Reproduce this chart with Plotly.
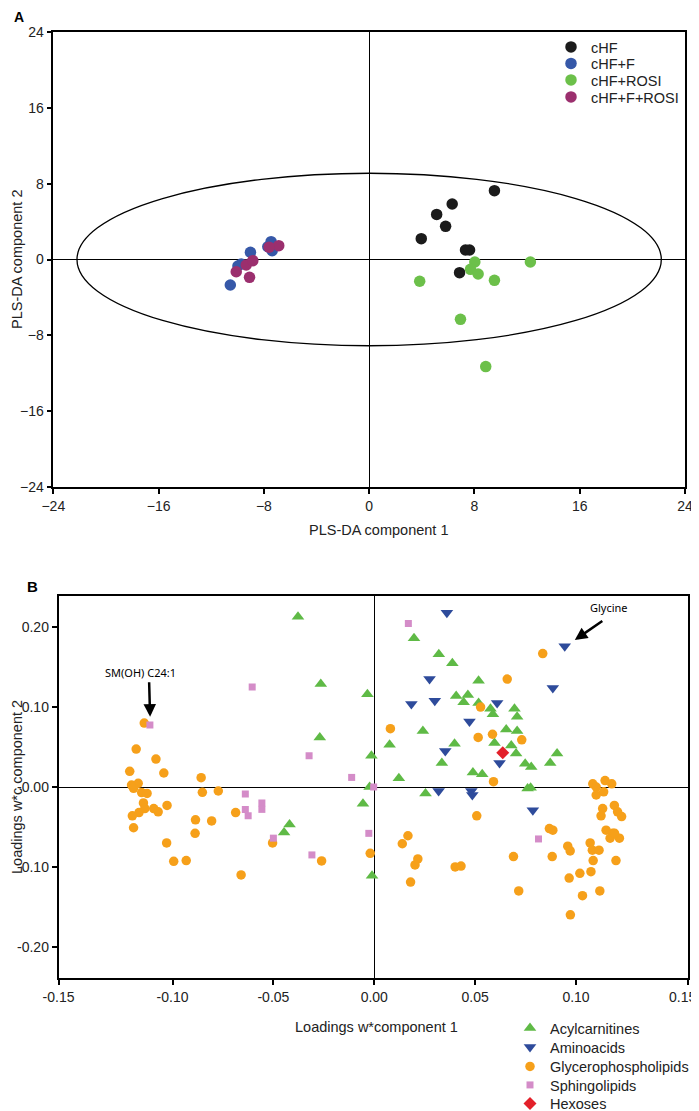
import plotly.graph_objects as go

# ---------- Panel A: PLS-DA scores ----------
chf_x = [9.52, 6.31, 5.13, 5.81, 3.96, 7.32, 7.63, 6.87]
chf_y = [7.26, 5.85, 4.76, 3.50, 2.20, 1.00, 1.00, -1.39]

chf_f_x = [-10.55, -9.97, -9.72, -9.02, -7.70, -7.45, -7.37]
chf_f_y = [-2.69, -0.69, -0.47, 0.76, 1.35, 1.88, 0.93]

chf_rosi_x = [3.84, 8.03, 7.70, 8.28, 9.52, 12.25, 6.94, 8.86]
chf_rosi_y = [-2.30, -0.26, -1.04, -1.53, -2.20, -0.26, -6.31, -11.3]

chf_f_rosi_x = [-10.10, -9.34, -8.84, -9.09, -6.87, -7.60]
chf_f_rosi_y = [-1.29, -0.58, -0.12, -1.88, 1.46, 1.30]

ellipse_a = 22.2   # half width of the confidence ellipse
ellipse_b = 9.1    # half height

a_ticks = [-24, -16, -8, 0, 8, 16, 24]

# ---------- Panel B: loadings ----------
acyl_x = [-0.0378, -0.0265, -0.0270, 0.0197, 0.0320, 0.0387, 0.0517, -0.0034, 0.0406, 0.0464,
          0.0443, 0.0517, 0.0576, 0.0588, 0.0695, 0.0708, 0.0241, 0.0654, 0.0708, 0.0076,
          0.0398, 0.0596, 0.0679, 0.0703, -0.0014, 0.0335, 0.0748, 0.0778, 0.0906, 0.0872,
          0.0489, 0.0535, 0.0122, 0.0760, 0.0775, 0.0254, -0.0056, -0.0023, -0.0011, -0.0420,
          -0.0447]
acyl_y = [0.213, 0.129, 0.062, 0.186, 0.166, 0.155, 0.133, 0.116, 0.114, 0.115,
          0.106, 0.105, 0.098, 0.091, 0.098, 0.088, 0.070, 0.072, 0.070, 0.053,
          0.054, 0.055, 0.052, 0.042, 0.039, 0.030, 0.029, 0.025, 0.042, 0.030,
          0.018, 0.016, 0.011, -0.002, -0.001, -0.008, -0.021, 0.000, -0.111, -0.047,
          -0.057]

amino_x = [0.0360, 0.0944, 0.0274, 0.0885, 0.0184, 0.0300, 0.0609, 0.0472, 0.0352, 0.0621,
           0.0319, 0.0481, 0.0486, 0.0786]
amino_y = [0.218, 0.176, 0.135, 0.124, 0.104, 0.108, 0.105, 0.082, 0.045, 0.030,
           -0.005, -0.005, -0.010, -0.029]

gpl_x = [-0.1140, -0.1180, -0.1082, -0.1212, -0.1043, -0.0858, -0.1203, -0.1170, -0.1193, -0.1153,
         -0.1126, -0.1144, -0.1137, -0.1166, -0.1199, -0.1193, -0.1093, -0.1071, -0.1027, -0.1029,
         -0.0994, -0.0932, -0.0852, -0.0773, -0.0886, -0.0806, -0.0888, -0.0687, -0.0660, -0.0504,
         -0.0261, 0.0835, 0.0659, 0.0527, 0.0080, 0.0586, 0.0515, 0.0731, 0.0591, -0.0020,
         0.0508, 0.0167, 0.0139, 0.0216, 0.0202, 0.0180, 0.0401, 0.0430, 0.0716, 0.0690,
         0.0868, 0.0885, 0.0882, 0.1083, 0.1100, 0.1144, 0.1177, 0.1100, 0.1137, 0.1132,
         0.1190, 0.1124, 0.1206, 0.1226, 0.1149, 0.1182, 0.1215, 0.0959, 0.0971, 0.0966,
         0.1019, 0.1032, 0.1070, 0.1081, 0.1074, 0.1085, 0.1118, 0.1114, 0.1198, 0.1169,
         0.1191, 0.0972]
gpl_y = [0.080, 0.0475, 0.035, 0.0196, 0.0175, 0.0116, 0.0025, 0.0046, -0.0016, -0.007,
         -0.008, -0.020, -0.027, -0.032, -0.036, -0.051, -0.027, -0.031, -0.023, -0.070,
         -0.093, -0.092, -0.0066, -0.005, -0.041, -0.0425, -0.058, -0.032, -0.110, -0.070,
         -0.0925, 0.167, 0.135, 0.100, 0.073, 0.066, 0.062, 0.059, 0.0066, -0.083,
         -0.036, -0.061, -0.071, -0.090, -0.0975, -0.119, -0.100, -0.099, -0.130, -0.087,
         -0.052, -0.054, -0.087, 0.004, 0.000, 0.008, 0.004, -0.010, -0.006, -0.027,
         -0.023, -0.036, -0.031, -0.037, -0.054, -0.058, -0.064, -0.074, -0.080, -0.114,
         -0.108, -0.136, -0.070, -0.079, -0.106, -0.092, -0.130, -0.079, -0.092, -0.064,
         -0.058, -0.160]

sphingo_x = [-0.0605, -0.1112, -0.0323, -0.0112, 0.0169, -0.0003, -0.0639, -0.0639, -0.0625, -0.0557,
             -0.0557, -0.0500, -0.0309, -0.0027, 0.0814]
sphingo_y = [0.125, 0.0775, 0.039, 0.012, 0.2046, 0.000, -0.0088, -0.028, -0.036, -0.020,
             -0.028, -0.064, -0.085, -0.058, -0.065]

hexose_x = [0.0637]
hexose_y = [0.043]

b_xtick_vals = [-0.1565, -0.10, -0.05, 0.0, 0.05, 0.10, 0.1555]
# last label sits on the right page edge, it is written separately below
b_xtick_text = ["-0.15", "-0.10", "-0.05", "0.00", "0.05", "0.10", ""]
b_ytick_vals = [0.20, 0.10, 0.0, -0.10, -0.20]
b_ytick_text = ["0.20", "0.10", "-0.00", "-0.10", "-0.20"]

FONT = "Liberation Sans, Arial, sans-serif"

# the page body has an 8px margin, so the figure is drawn 8px in from the top-left
OFF = 8
W, H = 699 - OFF, 1111 - OFF


def fx(p):
    # window pixel column -> paper x
    return (p - OFF) / W


def fy(p):
    # window pixel row -> paper y
    return 1 - (p - OFF) / H


fig = go.Figure()
legends = {}

# panel A scatter, one small legend per entry so rows sit where the original has them
groups_a = [
    ("cHF", chf_x, chf_y, "#1b1b1b", 47),
    ("cHF+F", chf_f_x, chf_f_y, "#3658a8", 63.5),
    ("cHF+ROSI", chf_rosi_x, chf_rosi_y, "#6cc04a", 80),
    ("cHF+F+ROSI", chf_f_rosi_x, chf_f_rosi_y, "#9b2f6e", 97),
]
for i, (name, xs, ys, col, row) in enumerate(groups_a):
    key = "legend" if i == 0 else f"legend{i + 1}"
    legends[key] = dict(x=fx(551), y=fy(row), xanchor="left", yanchor="middle",
                        bgcolor="rgba(0,0,0,0)", itemwidth=30,
                        font=dict(family=FONT, size=14.5, color="#222"))
    fig.add_trace(go.Scatter(x=xs, y=ys, mode="markers", name=name,
                             marker=dict(color=col, size=11.5, line=dict(width=0)),
                             xaxis="x", yaxis="y", legend=key))

# panel B scatter
groups_b = [
    ("Acylcarnitines", acyl_x, acyl_y, "#5fba46", "triangle-up", 11, 1028),
    ("Aminoacids", amino_x, amino_y, "#2e4b9b", "triangle-down", 11, 1047),
    ("Glycerophospholipids", gpl_x, gpl_y, "#f6a01a", "circle", 9.5, 1066.5),
    ("Sphingolipids", sphingo_x, sphingo_y, "#d48cc8", "square", 7, 1085),
    ("Hexoses", hexose_x, hexose_y, "#e3202a", "diamond", 10, 1103.5),
]
for i, (name, xs, ys, col, sym, sz, row) in enumerate(groups_b):
    key = f"legend{i + 5}"
    legends[key] = dict(x=fx(510), y=fy(row), xanchor="left", yanchor="middle",
                        bgcolor="rgba(0,0,0,0)", itemwidth=30,
                        font=dict(family=FONT, size=14.5, color="#222"))
    fig.add_trace(go.Scatter(x=xs, y=ys, mode="markers", name=name,
                             marker=dict(color=col, size=sz, symbol=sym, line=dict(width=0)),
                             xaxis="x2", yaxis="y2", legend=key))

axis_common = dict(showline=True, mirror=True, linecolor="black", linewidth=1.5,
                   ticks="outside", ticklen=5, tickwidth=1.5, tickcolor="black",
                   showgrid=False, zeroline=True, zerolinecolor="black", zerolinewidth=1.2,
                   automargin=False, ticklabeloverflow="allow",
                   tickfont=dict(family=FONT, size=14, color="#222"))

fig.update_layout(
    width=W, height=H,
    margin=dict(l=0, r=0, t=0, b=0, autoexpand=False),
    paper_bgcolor="white", plot_bgcolor="white",
    font=dict(family=FONT, size=14, color="#222"),
    xaxis=dict(axis_common, domain=[fx(53.3), fx(685)], range=[-24, 24],
               tickvals=a_ticks, anchor="y"),
    yaxis=dict(axis_common, domain=[fy(487), fy(32)], range=[-24, 24],
               tickvals=a_ticks, anchor="x"),
    xaxis2=dict(axis_common, domain=[fx(58.5), fx(688)], range=[-0.1565, 0.1555],
                tickvals=b_xtick_vals, ticktext=b_xtick_text, anchor="y2"),
    yaxis2=dict(axis_common, domain=[fy(978), fy(596)], range=[-0.239, 0.239],
                tickvals=b_ytick_vals, ticktext=b_ytick_text, anchor="x2"),
    showlegend=True,
    **legends,
)

# confidence ellipse in panel A
fig.add_shape(type="circle", xref="x", yref="y",
              x0=-ellipse_a, x1=ellipse_a, y0=-ellipse_b, y1=ellipse_b,
              line=dict(color="black", width=1.3), layer="below")

# axis titles and panel letters
centered = dict(xref="paper", yref="paper", showarrow=False, xanchor="center", yanchor="middle")
fig.add_annotation(text="PLS-DA component 1", x=fx(378), y=fy(530), font=dict(size=14.5), **centered)
fig.add_annotation(text="PLS-DA component 2", x=fx(17), y=fy(260), textangle=-90,
                   font=dict(size=14.5), **centered)
fig.add_annotation(text="Loadings w*component 1", x=fx(376), y=fy(1027), font=dict(size=14.5), **centered)
fig.add_annotation(text="Loadings w*c component 2", x=fx(17), y=fy(787), textangle=-90,
                   font=dict(size=14.5), **centered)
fig.add_annotation(text="<b>A</b>", x=fx(19), y=fy(17), font=dict(size=14, color="black"), **centered)
fig.add_annotation(text="<b>B</b>", x=fx(32.5), y=fy(586), font=dict(size=15, color="black"), **centered)
fig.add_annotation(text="0.15", x=fx(698), y=fy(997), xref="paper", yref="paper", showarrow=False,
                   xanchor="right", yanchor="middle", font=dict(family=FONT, size=14, color="#222"))

# labelled loadings
fig.add_annotation(text="SM(OH) C24:1", xref="x2", yref="y2", x=-0.1161, y=0.143,
                   showarrow=False, xanchor="center", yanchor="middle",
                   font=dict(family="Noto Sans, sans-serif", size=11, color="black"))
fig.add_annotation(text="", xref="x2", yref="y2", x=-0.1111, y=0.088, ax=-1, ay=-36,
                   showarrow=True, arrowhead=2, arrowsize=1, arrowwidth=2.5, arrowcolor="black")
fig.add_annotation(text="Glycine", xref="x2", yref="y2", x=0.1165, y=0.224,
                   showarrow=False, xanchor="center", yanchor="middle",
                   font=dict(family="Noto Sans, sans-serif", size=11, color="black"))
fig.add_annotation(text="", xref="x2", yref="y2", x=0.0994, y=0.184, ax=29, ay=-20,
                   showarrow=True, arrowhead=2, arrowsize=1, arrowwidth=2.5, arrowcolor="black")

fig.write_html("out.html")
